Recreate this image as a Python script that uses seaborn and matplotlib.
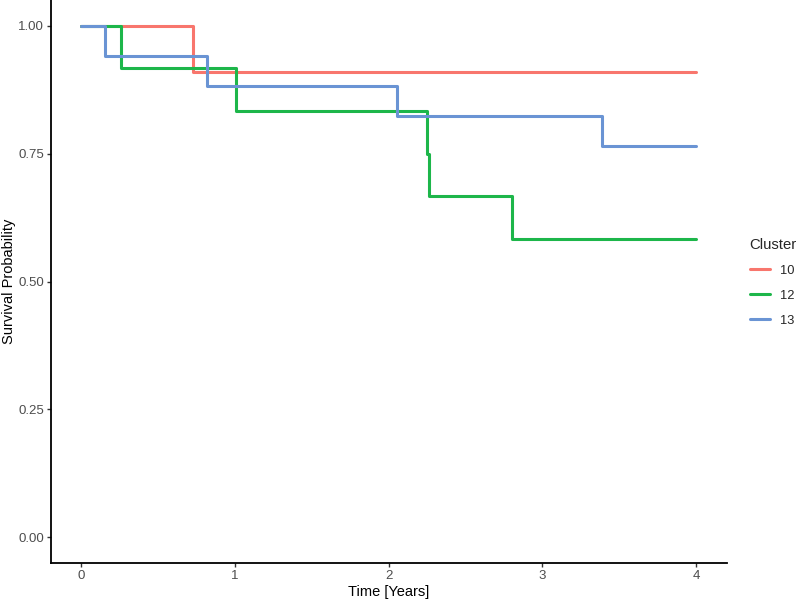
import pandas as pd
import matplotlib.pyplot as plt
import seaborn as sns

# Kaplan-Meier step values
clusters = ["10", "12", "13"]
times_10 = [0.0, 0.728, 4.0]
surv_10 = [1.0, 0.909, 0.909]
times_12 = [0.0, 0.255, 1.005, 2.252, 2.262, 2.803, 4.0]
surv_12 = [1.0, 0.917, 0.833, 0.750, 0.667, 0.583, 0.583]
times_13 = [0.0, 0.153, 0.816, 2.053, 3.386, 4.0]
surv_13 = [1.0, 0.941, 0.882, 0.824, 0.765, 0.765]
colors = ["#F8766D", "#1DB64A", "#6A94D4"]

x_ticks = [0, 1, 2, 3, 4]
y_ticks = [0.0, 0.25, 0.5, 0.75, 1.0]

# Build long table
frames = []
for name, t, s in zip(clusters, [times_10, times_12, times_13], [surv_10, surv_12, surv_13]):
    frames.append(pd.DataFrame({"time": t, "surv": s, "Cluster": name}))
df = pd.concat(frames, ignore_index=True)

sns.set_theme(style="white")
plt.rcParams["font.family"] = ["Liberation Sans", "DejaVu Sans"]

fig = plt.figure(figsize=(8, 6.01), dpi=100)
ax = fig.add_axes([0.0634, 0.0632, 0.8450, 0.9368])

sns.lineplot(data=df, x="time", y="surv", hue="Cluster", hue_order=clusters,
             palette=colors, drawstyle="steps-post", estimator=None,
             linewidth=2.2, ax=ax, legend=True)

ax.set_xlim(-0.2, 4.2)
ax.set_ylim(-0.05, 1.05)
ax.set_xticks(x_ticks)
ax.set_xticklabels([str(v) for v in x_ticks])
ax.set_yticks(y_ticks)
ax.set_yticklabels([f"{v:.2f}" for v in y_ticks])

for side in ["top", "right"]:
    ax.spines[side].set_visible(False)
for side in ["left", "bottom"]:
    ax.spines[side].set_color("black")
    ax.spines[side].set_linewidth(1.3)

ax.tick_params(axis="both", direction="out", length=3, width=1.0, color="#333333",
               labelsize=9.5, labelcolor="#4D4D4D", pad=2, left=True, bottom=True)

ax.set_xlabel("Time [Years]", fontsize=10.5, color="black", labelpad=2)
ax.set_ylabel("Survival Probability", fontsize=10.5, color="black", labelpad=1.5)

ax.get_legend().remove()
handles, labels = ax.get_legend_handles_labels()
leg = fig.legend(handles, labels, title="Cluster", loc="center left",
                 bbox_to_anchor=(0.929, 0.53), frameon=False, fontsize=9.3,
                 title_fontsize=10.7, handlelength=1.6, handletextpad=0.75,
                 labelspacing=1.0, borderpad=0, alignment="left")

fig.savefig("out.png", dpi=100)
